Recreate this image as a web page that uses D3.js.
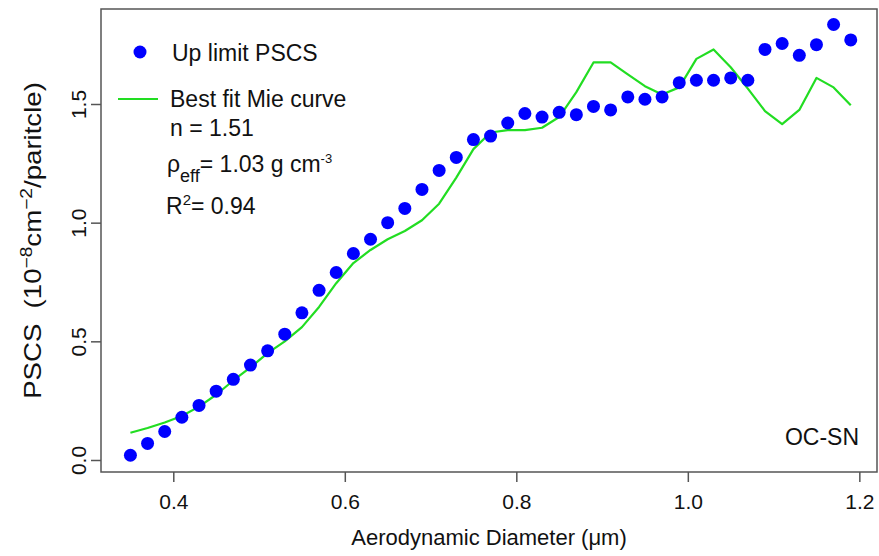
<!DOCTYPE html>
<html>
<head>
<meta charset="utf-8">
<script src="https://cdn.jsdelivr.net/npm/d3@7/dist/d3.min.js"></script>
<style>
    html, body { margin: 0; padding: 0; background: #fff; }
    svg text { font-family: "Liberation Sans", Arial, sans-serif; fill: #111; }
</style>
</head>
<body>
<div id="chart"></div>
<script>
// Diamètres aérodynamiques (µm)
const diameters = [0.35, 0.37, 0.39, 0.41, 0.43, 0.45, 0.47, 0.49, 0.51, 0.53,
    0.55, 0.57, 0.59, 0.61, 0.63, 0.65, 0.67, 0.69, 0.71, 0.73,
    0.75, 0.77, 0.79, 0.81, 0.83, 0.85, 0.87, 0.89, 0.91, 0.93,
    0.95, 0.97, 0.99, 1.01, 1.03, 1.05, 1.07, 1.09, 1.11, 1.13,
    1.15, 1.17, 1.19];

// Up limit PSCS (points bleus)
const upLimitPSCS = [0.02, 0.07, 0.12, 0.18, 0.23, 0.29, 0.34, 0.40, 0.46, 0.53,
    0.62, 0.715, 0.79, 0.87, 0.93, 1.00, 1.06, 1.14, 1.22, 1.275,
    1.35, 1.365, 1.42, 1.46, 1.445, 1.465, 1.455, 1.49, 1.475, 1.53,
    1.52, 1.53, 1.59, 1.60, 1.60, 1.61, 1.60, 1.73, 1.755, 1.705,
    1.75, 1.835, 1.77];

// Best fit Mie curve (ligne verte)
const mieCurve = [0.115, 0.135, 0.158, 0.185, 0.225, 0.275, 0.335, 0.39, 0.45, 0.50,
    0.56, 0.645, 0.745, 0.83, 0.885, 0.93, 0.965, 1.01, 1.08, 1.19,
    1.31, 1.38, 1.39, 1.39, 1.40, 1.445, 1.55, 1.675, 1.675, 1.625,
    1.575, 1.54, 1.57, 1.69, 1.73, 1.655, 1.565, 1.47, 1.415, 1.475,
    1.61, 1.57, 1.495];

const xTicks = [0.4, 0.6, 0.8, 1.0, 1.2];
const yTicks = [0.0, 0.5, 1.0, 1.5];

const width = 879;
const height = 556;
const box = { left: 101, right: 877, top: 9, bottom: 472 };

const svg = d3.select('#chart')
    .append('svg')
    .attr('width', width)
    .attr('height', height);

const x = d3.scaleLinear().domain([0.3157, 1.2206]).range([box.left, box.right]);
const y = d3.scaleLinear().domain([-0.0506, 1.9003]).range([box.bottom, box.top]);

const axisColor = '#555';

// Cadre du graphique
svg.append('rect')
    .attr('x', box.left)
    .attr('y', box.top)
    .attr('width', box.right - box.left)
    .attr('height', box.bottom - box.top)
    .attr('fill', 'none')
    .attr('stroke', axisColor)
    .attr('stroke-width', 1.5);

// Axe X
const xAxis = svg.append('g')
    .attr('transform', `translate(0, ${box.bottom})`)
    .call(d3.axisBottom(x).tickValues(xTicks).tickSize(10).tickPadding(12).tickFormat(d3.format('.1f')));

// Axe Y (labels verticaux comme dans R)
const yAxis = svg.append('g')
    .attr('transform', `translate(${box.left}, 0)`)
    .call(d3.axisLeft(y).tickValues(yTicks).tickSize(10).tickFormat(d3.format('.1f')));

[xAxis, yAxis].forEach(g => {
    g.select('.domain').remove();
    g.selectAll('.tick line').attr('stroke', axisColor).attr('stroke-width', 1.5);
    g.selectAll('.tick text')
        .style('font-size', '21px')
        .style('font-family', '"Liberation Sans", Arial, sans-serif')
        .attr('fill', '#111');
});

yAxis.selectAll('.tick text')
    .attr('x', null)
    .attr('dy', null)
    .attr('text-anchor', 'middle')
    .attr('transform', 'translate(-15, 0) rotate(-90)');

// Titre de l'axe X
svg.append('text')
    .attr('x', (box.left + box.right) / 2)
    .attr('y', 545)
    .attr('text-anchor', 'middle')
    .style('font-size', '22px')
    .text('Aerodynamic Diameter (μm)');

// Titre de l'axe Y (un peu étiré, comme dans l'image d'origine)
const yTitle = svg.append('text')
    .attr('transform', `translate(41, ${(box.top + box.bottom) / 2}) rotate(-90) scale(1.2, 1)`)
    .attr('text-anchor', 'middle')
    .attr('xml:space', 'preserve')
    .style('white-space', 'pre')
    .style('font-size', '23px');
yTitle.append('tspan').text('PSCS  (10');
yTitle.append('tspan').attr('dy', -9).style('font-size', '16px').text('−8');
yTitle.append('tspan').attr('dy', 9).text('cm');
yTitle.append('tspan').attr('dy', -9).style('font-size', '16px').text('−2');
yTitle.append('tspan').attr('dy', 9).text('/paritcle)');

// Courbe de Mie
const line = d3.line()
    .x((d, i) => x(diameters[i]))
    .y(d => y(d));

svg.append('path')
    .datum(mieCurve)
    .attr('d', line)
    .attr('fill', 'none')
    .attr('stroke', '#22dd22')
    .attr('stroke-width', 2.2)
    .attr('stroke-linejoin', 'round');

// Points PSCS
svg.selectAll('.dot')
    .data(upLimitPSCS)
    .enter()
    .append('circle')
    .attr('class', 'dot')
    .attr('cx', (d, i) => x(diameters[i]))
    .attr('cy', d => y(d))
    .attr('r', 6.5)
    .attr('fill', '#0000ff');

// Légende
const legend = svg.append('g').style('font-size', '23px');

legend.append('circle')
    .attr('cx', 140).attr('cy', 52).attr('r', 6.5)
    .attr('fill', '#0000ff');
legend.append('text').attr('x', 172).attr('y', 60.5).text('Up limit PSCS');

legend.append('line')
    .attr('x1', 118).attr('x2', 158).attr('y1', 99).attr('y2', 99)
    .attr('stroke', '#22dd22').attr('stroke-width', 2.2);
legend.append('text').attr('x', 170).attr('y', 107).text('Best fit Mie curve');

legend.append('text').attr('x', 170).attr('y', 135.5).text('n = 1.51');

const rho = legend.append('text').attr('x', 167).attr('y', 171.5);
rho.append('tspan').text('ρ');
rho.append('tspan').attr('dy', 10).style('font-size', '18px').text('eff');
rho.append('tspan').attr('dy', -10).text('= 1.03 g cm');
rho.append('tspan').attr('dy', -9).style('font-size', '13px').text('-3');

const r2 = legend.append('text').attr('x', 166).attr('y', 214);
r2.append('tspan').text('R');
r2.append('tspan').attr('dy', -9).style('font-size', '15px').text('2');
r2.append('tspan').attr('dy', 9).text('= 0.94');

// Étiquette du site
svg.append('text')
    .attr('x', 859)
    .attr('y', 445)
    .attr('text-anchor', 'end')
    .style('font-size', '23px')
    .text('OC-SN');
</script>
</body>
</html>
